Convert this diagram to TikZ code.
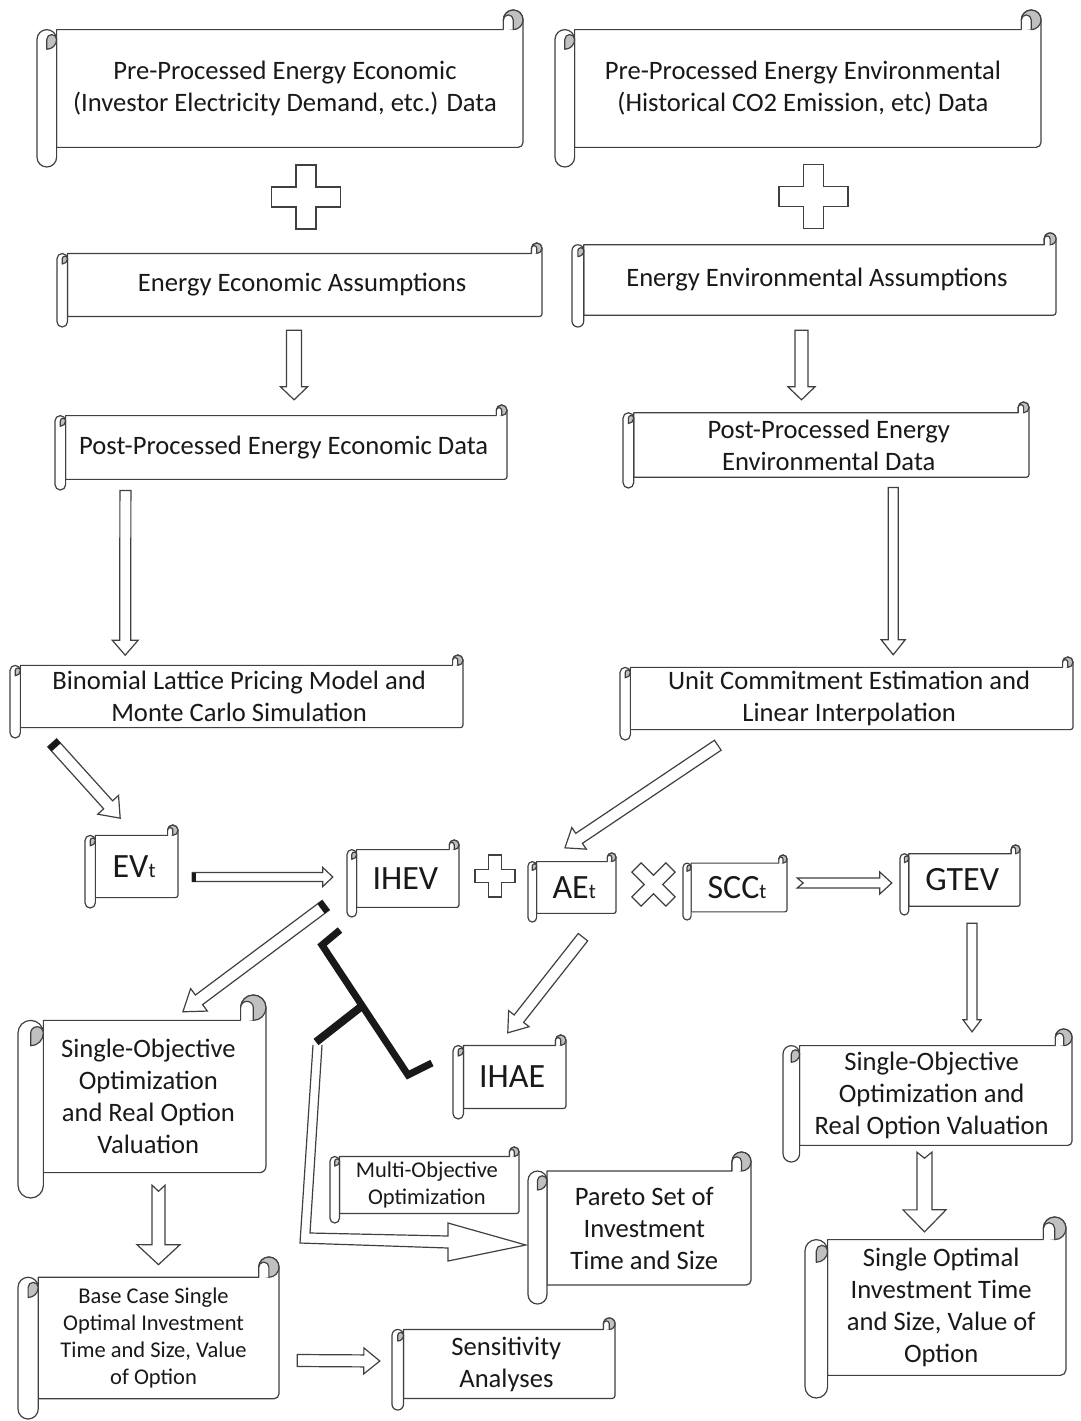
\documentclass[tikz,border=0pt]{standalone}
\usepackage{fontspec}
\setmainfont{Carlito}
\usetikzlibrary{calc}
\definecolor{linegray}{RGB}{64,64,64}
\definecolor{curlgray}{RGB}{192,192,192}
\definecolor{inkblack}{RGB}{25,25,25}

\tikzset{
  scrollline/.style={draw=linegray, line width=1.2pt, fill=white, line join=round},
  scrolltext/.style={inner sep=0pt, align=center, text=inkblack, font=\fontsize{26.6}{32}\selectfont},
  smalltext/.style={font=\fontsize{22.5}{27}\selectfont},
  bigtext/.style={font=\fontsize{34}{38}\selectfont},
  blockline/.style={draw=linegray, line width=1.2pt, fill=white, line join=miter},
  opsign/.style={draw=linegray, line width=1.3pt, fill=white},
}

%% small t of EV_t, AE_t, SCC_t
\newcommand{\lowt}[1]{{\fontsize{21}{21}\selectfont #1}}

%% horizontal scroll: name, left, top, right, bottom (px, y downwards)
\newcommand{\scroll}[7][]{%
  \pgfmathsetmacro{\scra}{min(#5-#3,#6-#4)/16}%
  \pgfmathsetmacro{\scrt}{#4+2*\scra}%
  \pgfmathsetmacro{\scrb}{#6-2*\scra}%
  \draw[scrollline] ({#3+2*\scra},\scrt) -- ({#5-2*\scra},\scrt) -- ({#5-2*\scra},{#4+\scra})
    arc[start angle=180, end angle=360, radius=\scra] -- (#5,{\scrb-\scra/2})
    arc[start angle=0, end angle=90, radius=\scra/2] -- ({#3+2*\scra},\scrb) -- cycle;
  \filldraw[scrollline, fill=curlgray] ({#5-\scra},{#4+\scra}) circle[radius=\scra];
  \draw[scrollline] ({#5-2*\scra},\scrt) -- ({#5-2*\scra},{#4+\scra})
    arc[start angle=180, end angle=360, radius=\scra/2] -- ({#5-\scra},\scrt);
  \draw[scrollline] ({#3+2*\scra},{\scrt+\scra}) -- ({#3+2*\scra},{#6-\scra})
    arc[start angle=0, end angle=180, radius=\scra] -- (#3,{\scrt+\scra})
    arc[start angle=180, end angle=360, radius=\scra] -- cycle;
  \filldraw[scrollline, fill=curlgray] ({#3+\scra},{\scrt+\scra})
    arc[start angle=180, end angle=360, radius=\scra/2]
    arc[start angle=0, end angle=90, radius=\scra] -- cycle;
  \node[scrolltext, minimum width={(#5-#3-\scra)*1pt}, minimum height={(\scrb-\scrt)*1pt}, #1]
    (#2) at ({(#3+\scra+#5)/2},{(\scrt+\scrb)/2}) {#7};
}

%% block arrow: from, to, shaft half width, head half width, head length, tail notch
\newcommand{\fatarrow}[7][]{%
  \coordinate (faA) at #2;
  \coordinate (faB) at #3;
  \coordinate (faH) at ($(faB)!#6!(faA)$);
  \coordinate (faN) at ($(faA)!#7!(faB)$);
  \draw[blockline,#1] ($(faA)!#4!90:(faB)$) -- ($(faH)!#4!90:(faB)$) -- ($(faH)!#5!90:(faB)$)
    -- (faB) -- ($(faH)!#5!-90:(faB)$) -- ($(faH)!#4!-90:(faB)$) -- ($(faA)!#4!-90:(faB)$)
    -- (faN) -- cycle;
}
%% black end on the tail of the last block arrow
\newcommand{\blacktail}[2]{%
  \coordinate (faT) at ($(faA)!#2!(faB)$);
  \fill[inkblack] ($(faA)!#1!90:(faB)$) -- ($(faT)!#1!90:(faB)$) -- ($(faT)!#1!-90:(faB)$)
    -- ($(faA)!#1!-90:(faB)$) -- cycle;
}
%% plus sign: x, y, half width, half height, half arm
\newcommand{\plussign}[6][]{%
  \begin{scope}[shift={(#2,#3)},#1]
    \draw[opsign] (-#6,-#5) -- (#6,-#5) -- (#6,-#6) -- (#4,-#6) -- (#4,#6) -- (#6,#6) -- (#6,#5)
      -- (-#6,#5) -- (-#6,#6) -- (-#4,#6) -- (-#4,-#6) -- (-#6,-#6) -- cycle;
  \end{scope}
}

\begin{document}
\begin{tikzpicture}[x=1pt, y=-1pt]
  \path[fill=white] (0,0) rectangle (1081,1421);
  \useasboundingbox (0,0) rectangle (1081,1421);

  %% data and assumptions
  \scroll{ecoraw}{37}{10}{523}{167}{Pre-Processed Energy Economic\\(Investor Electricity Demand, etc.) Data}
  \scroll{envraw}{555}{10}{1041}{167}{Pre-Processed Energy Environmental\\(Historical CO2 Emission, etc) Data}
  \plussign{306}{197}{34.5}{32}{10}
  \plussign{813.5}{196.5}{34.5}{32}{10}
  \scroll{ecoass}{57}{243}{542}{327}{Energy Economic Assumptions}
  \scroll{envass}{572}{233}{1056}{327}{Energy Environmental Assumptions}
  \scroll{ecopost}{55}{405}{507}{490}{Post-Processed Energy Economic Data}
  \scroll{envpost}{623}{402}{1029}{488}{Post-Processed Energy\\Environmental Data}
  \scroll{binom}{10}{655}{463}{738}{Binomial Lattice Pricing Model and\\Monte Carlo Simulation}
  \scroll{unitc}{620}{657}{1073}{740}{Unit Commitment Estimation and\\Linear Interpolation}

  %% values
  \scroll[bigtext]{evt}{85}{825}{178}{908}{EV\lowt{t}}
  \scroll[bigtext]{ihev}{347}{840}{459}{917}{IHEV}
  \plussign{495}{876}{20}{21}{6.5}
  \scroll[bigtext]{aet}{528}{853}{616}{922}{AE\lowt{t}}
  \plussign[rotate=45]{653.5}{884.5}{24}{24}{6.5}
  \scroll[bigtext]{scc}{683}{855}{787}{920}{SCC\lowt{t}}
  \scroll[bigtext]{gtev}{900}{845}{1020}{915}{GTEV}
  \scroll[bigtext]{ihae}{453}{1035}{566}{1119}{IHAE}

  %% optimization and results
  \scroll{sooleft}{18}{995}{266}{1198}{Single-Objective\\Optimization\\and Real Option\\Valuation}
  \scroll[smalltext]{basecase}{18}{1257}{279}{1419}{Base Case Single\\Optimal Investment\\Time and Size, Value\\of Option}
  \scroll[smalltext]{multiobj}{330}{1147}{519}{1223}{Multi-Objective\\Optimization}
  \scroll{pareto}{528}{1152}{751}{1304}{Pareto Set of\\Investment\\Time and Size}
  \scroll{sens}{392}{1318}{615}{1410}{Sensitivity\\Analyses}
  \scroll{sooright}{783}{1029}{1072}{1162}{Single-Objective\\Optimization and\\Real Option Valuation}
  \scroll{optfinal}{805}{1217}{1066}{1398}{Single Optimal\\Investment Time\\and Size, Value of\\Option}

  %% block arrows
  \fatarrow{($(ecoass.south)+(-8.1,13.5)$)}{($(ecopost.north)+(10.4,-15.6)$)}{7.5pt}{13.5pt}{13pt}{0pt}
  \fatarrow{($(envass.south)+(-15.5,14.75)$)}{($(envpost.north)+(-27.2,-12.75)$)}{6.5pt}{13.5pt}{13pt}{0pt}
  \fatarrow{($(ecopost.south west)+(65.3,11)$)}{($(binom.north west)+(110.2,-10)$)}{5.5pt}{13pt}{15pt}{0pt}
  \fatarrow{($(envpost.south east)+(-136,10)$)}{($(unitc.north east)+(-180,-12.4)$)}{5pt}{12pt}{15pt}{0pt}
  \fatarrow{($(binom.south west)+(37.2,15)$)}{($(evt.north west)+(30.2,-17)$)}{6pt}{14pt}{18pt}{0pt}
  \blacktail{6pt}{6pt}
  \fatarrow{($(evt.east)+(14,10.5)$)}{($(ihev.west)+(-18.8,-1.5)$)}{4.5pt}{9.5pt}{10pt}{0pt}
  \blacktail{4.5pt}{4pt}
  \fatarrow{($(unitc.south west)+(92.8,15.4)$)}{($(aet.north)+(-9.2,-13.6)$)}{6pt}{13pt}{17pt}{0pt}
  \fatarrow{($(ihev.south west)+(-25.8,-2.4)$)}{($(sooleft.north)+(34.6,-8.4)$)}{6pt}{14pt}{20pt}{0pt}
  \blacktail{6pt}{6pt}
  \fatarrow{($(aet.south)+(8.8,23.6)$)}{($(ihae.north west)+(49.7,-12.5)$)}{6pt}{13pt}{18pt}{0pt}
  \fatarrow{($(scc.east)+(10,-4.5)$)}{($(gtev.west)+(-12.4,3)$)}{5pt}{11pt}{12pt}{6pt}
  \fatarrow{($(gtev.south)+(9.8,16.75)$)}{($(sooright.north)+(40.4,-13.6)$)}{5pt}{9pt}{12pt}{0pt}
  \fatarrow{($(sooleft.south)+(10.2,12.4)$)}{($(basecase.north)+(4.9,-12.4)$)}{6.5pt}{21.5pt}{20pt}{6pt}
  \fatarrow{($(sooright.south)+(-7.2,6.6)$)}{($(optfinal.north)+(-16.6,-7.6)$)}{7.5pt}{21.5pt}{22pt}{6pt}
  \fatarrow{($(basecase.east)+(18,22.5)$)}{($(sens.west)+(-17.75,-3)$)}{6pt}{13pt}{16pt}{0pt}

  %% black bracket and bent arrow to the Pareto set
  \coordinate (brtop) at (340,930);
  \coordinate (brknee) at (322,945);
  \coordinate (brfoot) at (408,1075);
  \coordinate (brtoe) at (432,1063);
  \coordinate (brjoin) at (362,1006);
  \coordinate (brstem) at (316,1042);
  \draw[blockline] (313,1045) -- (300,1243) -- (448,1248) -- (448,1261) -- ($(pareto.west)+(-11.5,17)$)
    -- (448,1223) -- (448,1236) -- (310,1233) -- (322,1045);
  \draw[inkblack, line width=7pt, line join=miter] (brtop) -- (brknee) -- (brfoot) -- (brtoe);
  \draw[inkblack, line width=8pt] (brjoin) -- (brstem);
\end{tikzpicture}
\end{document}
